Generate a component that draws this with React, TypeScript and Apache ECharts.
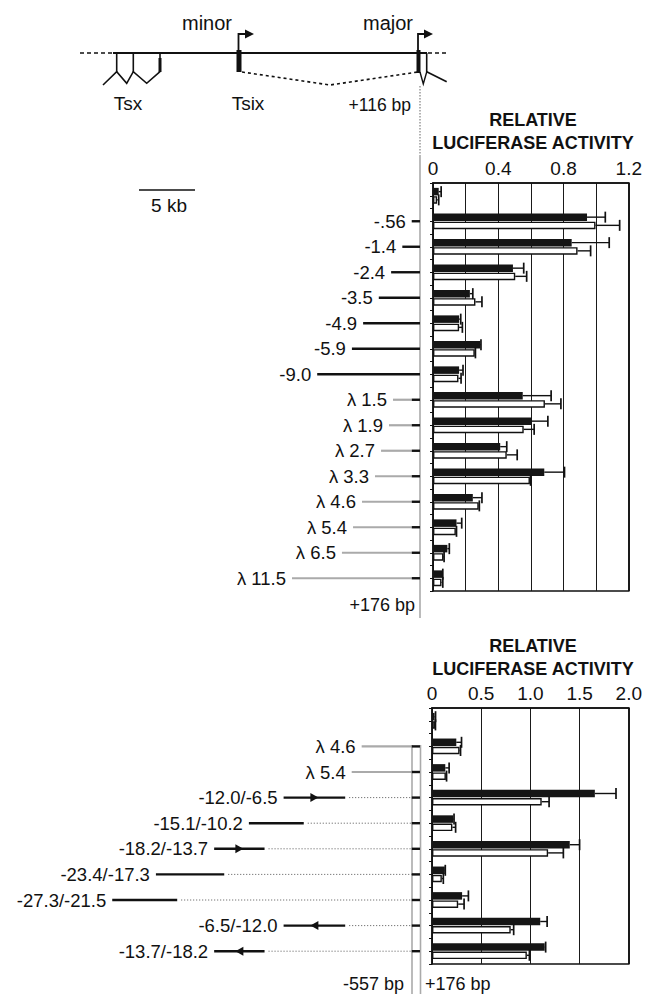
import React, { useEffect, useRef } from 'react';
import * as echarts from 'echarts';

// ---------- DATA ----------
const topCategories = ['', '-.56', '-1.4', '-2.4', '-3.5', '-4.9', '-5.9', '-9.0', 'λ 1.5', 'λ 1.9', 'λ 2.7', 'λ 3.3', 'λ 4.6', 'λ 5.4', 'λ 6.5', 'λ 11.5'];
const topBlack = [0.035, 0.944, 0.85, 0.49, 0.226, 0.16, 0.29, 0.16, 0.55, 0.604, 0.412, 0.682, 0.244, 0.144, 0.088, 0.056];
const topBlackErr = [0.015, 0.112, 0.23, 0.066, 0.018, 0.01, 0.004, 0.024, 0.174, 0.1, 0.04, 0.124, 0.056, 0.032, 0.012, 0.004];
const topWhite = [0.025, 0.996, 0.886, 0.504, 0.26, 0.16, 0.256, 0.156, 0.686, 0.556, 0.452, 0.594, 0.28, 0.14, 0.064, 0.052];
const topWhiteErr = [0.01, 0.148, 0.08, 0.07, 0.04, 0.02, 0.004, 0.016, 0.098, 0.064, 0.064, 0.004, 0.004, 0.004, 0.004, 0.008];
// construct start (kb) ; kind 0 = genomic (black), 1 = lambda stuffer (grey)
const topLineStart = [null, -0.56, -1.4, -2.4, -3.5, -4.9, -5.9, -9.0, -2.23, -2.59, -3.3, -3.84, -5.0, -5.8, -6.79, -11.25];
const topLineKind = [null, 0, 0, 0, 0, 0, 0, 0, 1, 1, 1, 1, 1, 1, 1, 1];

const bottomCategories = ['', 'λ 4.6', 'λ 5.4', '-12.0/-6.5', '-15.1/-10.2', '-18.2/-13.7', '-23.4/-17.3', '-27.3/-21.5', '-6.5/-12.0', '-13.7/-18.2'];
const bottomBlack = [0.026, 0.247, 0.135, 1.655, 0.217, 1.4, 0.13, 0.306, 1.1, 1.145];
const bottomBlackErr = [0.01, 0.053, 0.039, 0.215, 0.007, 0.1, 0.005, 0.064, 0.07, 0.01];
const bottomWhite = [0.03, 0.28, 0.141, 1.115, 0.207, 1.18, 0.1, 0.266, 0.8, 0.964];
const bottomWhiteErr = [0.005, 0.01, 0.007, 0.075, 0.033, 0.155, 0.015, 0.06, 0.03, 0.026];
const bottomSegStart = [null, -5.03, -5.92, -12.0, -15.1, -18.2, -23.4, -27.3, -12.0, -18.2];
const bottomSegEnd = [null, -0.557, -0.557, -6.5, -10.2, -13.7, -17.3, -21.5, -6.5, -13.7];
const bottomKind = [null, 1, 1, 2, 2, 2, 2, 2, 2, 2];
const bottomArrow = [0, 0, 0, 1, 0, 1, 0, 0, -1, -1];

const topTicks = [0, 0.2, 0.4, 0.6, 0.8, 1.0, 1.2];
const bottomTicks = [0, 0.5, 1.0, 1.5, 2.0];

const PROM_START = -0.557;
const PROM_END = 0.176;

// ---------- LAYOUT ----------
const FONT = '"Liberation Sans", Arial, Helvetica, sans-serif';
const LABEL_SIZE = 18.5;
const KB_PX = 11.2;
const KB_ZERO_X = 418;
const SCHEM_MIN = -37;
const SCHEM_MAX = 1;
const TOP_GRID = { left: 433, top: 183, width: 200, height: 408 };
const BOT_GRID = { left: 432, top: 708, width: 203, height: 256 };
const BAR_W = 7.5;
const BAR_OFF = 4.1;

function txt(text: string, x: number, y: number, size: number, align = 'center', weight = 'normal') {
  return {
    type: 'text',
    x,
    y,
    silent: true,
    style: { text, align, verticalAlign: 'middle', font: `${weight} ${size}px ${FONT}`, fill: '#111' },
  };
}
function ln(x1: number, y1: number, x2: number, y2: number, stroke = '#111', w = 1.5, dash?: number[]) {
  return { type: 'line', silent: true, shape: { x1, y1, x2, y2 }, style: { stroke, lineWidth: w, lineDash: dash } };
}

function schemRender(labels: string[]) {
  return (params: any, api: any) => {
    const row = api.value(0);
    const s = api.value(1);
    const e = api.value(2);
    const kind = api.value(3);
    const arrow = api.value(4);
    const y = api.coord([0, row])[1];
    const X = (kb: number) => api.coord([kb, row])[0];
    const xs = X(s);
    const children: any[] = [];
    const seg = (a: number, b: number, stroke: string, w = 2.4) => ({
      type: 'line',
      shape: { x1: a, y1: y, x2: b, y2: y },
      style: { stroke, lineWidth: w },
    });
    if (kind === 0) {
      children.push(seg(xs, X(PROM_END), '#111'));
    } else if (kind === 1) {
      children.push(seg(xs, X(PROM_START), '#aaa', 2.2));
      children.push(seg(X(PROM_START), X(PROM_END), '#111'));
    } else {
      const xe = X(e);
      children.push(seg(xs, xe, '#111'));
      children.push({
        type: 'line',
        shape: { x1: xe + 4, y1: y, x2: X(PROM_START), y2: y },
        style: { stroke: '#555', lineWidth: 1, lineDash: [1, 2] },
      });
      children.push(seg(X(PROM_START), X(PROM_END), '#111'));
      if (arrow !== 0) {
        const m = (xs + xe) / 2;
        const d = arrow;
        children.push({
          type: 'polygon',
          shape: { points: [[m - 4 * d, y - 4.5], [m + 4 * d, y], [m - 4 * d, y + 4.5]] },
          style: { fill: '#111' },
        });
      }
    }
    children.push({
      type: 'text',
      style: { text: labels[row], x: xs - 6, y, align: 'right', verticalAlign: 'middle', font: `${LABEL_SIZE}px ${FONT}`, fill: '#111' },
    });
    return { type: 'group', children };
  };
}

function errRender(params: any, api: any) {
  const v = api.value(0);
  const row = api.value(1);
  const err = api.value(2);
  const off = api.value(3);
  const p0 = api.coord([v, row]);
  const p1 = api.coord([v + err, row]);
  const y = p0[1] + off;
  return {
    type: 'group',
    children: [
      { type: 'line', shape: { x1: p0[0], y1: y, x2: p1[0], y2: y }, style: { stroke: '#111', lineWidth: 1.4 } },
      { type: 'line', shape: { x1: p1[0], y1: y - 5.5, x2: p1[0], y2: y + 5.5 }, style: { stroke: '#111', lineWidth: 1.7 } },
    ],
  };
}

function valueAxis(gridIndex: number, ticks: number[], labelFn: (v: number) => string) {
  const step = ticks[1] - ticks[0];
  return {
    type: 'value',
    gridIndex,
    position: 'top',
    min: ticks[0],
    max: ticks[ticks.length - 1],
    interval: step,
    axisLine: { show: true, onZero: false, lineStyle: { color: '#111', width: 1.5 } },
    axisTick: { show: false },
    axisLabel: { fontSize: 19, fontFamily: FONT, color: '#111', margin: 5, formatter: labelFn },
    splitLine: { show: true, lineStyle: { color: '#1a1a1a', width: 1 } },
  };
}

function catAxis(gridIndex: number, data: string[], centerTicks: boolean) {
  return {
    type: 'category',
    gridIndex,
    data,
    inverse: true,
    position: 'left',
    axisLine: { show: !centerTicks, lineStyle: { color: '#111', width: 1.5 } },
    axisTick: { show: true, alignWithLabel: centerTicks, length: 3, lineStyle: { color: '#111', width: 1 } },
    axisLabel: { show: false },
    splitLine: { show: false },
  };
}

function schemAxisX(gridIndex: number) {
  return { type: 'value', gridIndex, min: SCHEM_MIN, max: SCHEM_MAX, show: false, splitLine: { show: false } };
}
function schemAxisY(gridIndex: number, data: string[]) {
  return { type: 'category', gridIndex, data, inverse: true, show: false };
}

export default function App() {
  const ref = useRef<HTMLDivElement>(null);
  useEffect(() => {
    if (!ref.current) return;
    const chart = echarts.init(ref.current, undefined, { renderer: 'svg' });
    const schemLeft = KB_ZERO_X + SCHEM_MIN * KB_PX;
    const schemWidth = (SCHEM_MAX - SCHEM_MIN) * KB_PX;

    const topFmt = (v: number) => {
      const k = Math.round(v / 0.2);
      if (k % 2 !== 0) return '';
      return k === 0 ? '0' : v.toFixed(1);
    };
    const botFmt = (v: number) => (Math.abs(v) < 1e-9 ? '0' : v.toFixed(1));

    const topSchemData = topCategories
      .map((_, i) => i)
      .filter((i) => topLineStart[i] !== null)
      .map((i) => [i, topLineStart[i], 0, topLineKind[i], 0]);
    const botSchemData = bottomCategories
      .map((_, i) => i)
      .filter((i) => bottomSegStart[i] !== null)
      .map((i) => [i, bottomSegStart[i], bottomSegEnd[i], bottomKind[i], bottomArrow[i]]);

    const scaleX1 = 139;
    const graphics: any[] = [
      // gene map
      ln(80, 53, 113, 53, '#111', 1.5, [4, 3]),
      ln(113, 53, 427, 53, '#111', 1.8),
      ln(428, 53, 448, 53, '#111', 1.5, [4, 3]),
      ln(116.7, 53, 116.7, 72, '#111', 1.6),
      ln(133.3, 53, 133.3, 72, '#111', 1.6),
      ln(160, 53, 160, 72, '#111', 1.6),
      { type: 'rect', silent: true, shape: { x: 158.5, y: 58, width: 3, height: 14 }, style: { fill: '#111' } },
      { type: 'polyline', silent: true, shape: { points: [[103, 85], [116.7, 71.7], [126.7, 83.3], [133.3, 71.7], [146.7, 83.3], [160, 71.7]] }, style: { stroke: '#111', lineWidth: 1.6, fill: 'none' } },
      { type: 'rect', silent: true, shape: { x: 236.5, y: 50, width: 5, height: 22 }, style: { fill: '#111' } },
      { type: 'polyline', silent: true, shape: { points: [[238.5, 50], [238.5, 34], [246, 34]] }, style: { stroke: '#111', lineWidth: 1.8, fill: 'none' } },
      { type: 'polygon', silent: true, shape: { points: [[245, 29.5], [254, 34], [245, 38.5]] }, style: { fill: '#111' } },
      { type: 'polyline', silent: true, shape: { points: [[242, 72], [330, 85], [418, 72]] }, style: { stroke: '#111', lineWidth: 1.6, fill: 'none', lineDash: [3, 3] } },
      { type: 'rect', silent: true, shape: { x: 416.5, y: 50, width: 4, height: 23 }, style: { fill: '#111' } },
      { type: 'polyline', silent: true, shape: { points: [[418, 50], [418, 34], [425, 34]] }, style: { stroke: '#111', lineWidth: 1.8, fill: 'none' } },
      { type: 'polygon', silent: true, shape: { points: [[424, 29.5], [433, 34], [424, 38.5]] }, style: { fill: '#111' } },
      ln(426.7, 53, 426.7, 72, '#111', 1.6),
      { type: 'polyline', silent: true, shape: { points: [[420, 72], [423.3, 84], [426.7, 72]] }, style: { stroke: '#111', lineWidth: 1.4, fill: 'none' } },
      ln(426.7, 71.7, 446.7, 81.7, '#111', 1.6),
      txt('minor', 207, 23, 20),
      txt('major', 388, 23, 20),
      txt('Tsx', 128, 103, 19),
      txt('Tsix', 248, 103, 19),
      txt('+116 bp', 411, 105, 17.5, 'right'),
      // scale bar
      ln(scaleX1, 190, scaleX1 + 5 * KB_PX, 190, '#111', 1.5),
      txt('5 kb', scaleX1 + 2.5 * KB_PX + 2, 205, 19),
      // reference verticals
      ln(420, 86, 420, 155, '#999', 1.5, [1.5, 1.5]),
      ln(420, 155, 420, 618, '#aaa', 1.6),
      txt('+176 bp', 415, 605, 18, 'right'),
      ln(412, 745, 412, 994, '#aaa', 1.6),
      ln(420.5, 745, 420.5, 994, '#aaa', 1.6),
      txt('-557 bp', 404, 984, 18, 'right'),
      txt('+176 bp', 425, 984, 18, 'left'),
      // titles
      txt('RELATIVE', 533, 120, 18, 'center', 'bold'),
      txt('LUCIFERASE ACTIVITY', 533, 143, 18, 'center', 'bold'),
      txt('RELATIVE', 533, 646, 18, 'center', 'bold'),
      txt('LUCIFERASE ACTIVITY', 533, 669, 18, 'center', 'bold'),
    ];

    const gridBox = { show: true, borderColor: '#111', borderWidth: 1.5, backgroundColor: 'transparent' };

    chart.setOption({
      animation: false,
      grid: [
        { ...TOP_GRID, ...gridBox },
        { ...BOT_GRID, ...gridBox },
        { left: schemLeft, width: schemWidth, top: TOP_GRID.top, height: TOP_GRID.height },
        { left: schemLeft, width: schemWidth, top: BOT_GRID.top, height: BOT_GRID.height },
      ],
      xAxis: [
        valueAxis(0, topTicks, topFmt),
        valueAxis(1, bottomTicks, botFmt),
        schemAxisX(2),
        schemAxisX(3),
      ],
      yAxis: [
        catAxis(0, topCategories, false),
        catAxis(0, topCategories, true),
        catAxis(1, bottomCategories, false),
        catAxis(1, bottomCategories, true),
        schemAxisY(2, topCategories),
        schemAxisY(3, bottomCategories),
      ],
      graphic: graphics,
      series: [
        { type: 'bar', xAxisIndex: 0, yAxisIndex: 0, data: topBlack, barWidth: BAR_W, barGap: '10%', itemStyle: { color: '#151515' }, z: 2 },
        { type: 'bar', xAxisIndex: 0, yAxisIndex: 0, data: topWhite, barWidth: BAR_W, barGap: '10%', itemStyle: { color: '#fff', borderColor: '#111', borderWidth: 1.4 }, z: 2 },
        { type: 'custom', xAxisIndex: 0, yAxisIndex: 0, renderItem: errRender, encode: { x: 0, y: 1 }, clip: false, z: 3,
          data: topBlack.map((v, i) => [v, i, topBlackErr[i], -BAR_OFF]) },
        { type: 'custom', xAxisIndex: 0, yAxisIndex: 0, renderItem: errRender, encode: { x: 0, y: 1 }, clip: false, z: 3,
          data: topWhite.map((v, i) => [v, i, topWhiteErr[i], BAR_OFF]) },
        { type: 'bar', xAxisIndex: 1, yAxisIndex: 2, data: bottomBlack, barWidth: BAR_W, barGap: '10%', itemStyle: { color: '#151515' }, z: 2 },
        { type: 'bar', xAxisIndex: 1, yAxisIndex: 2, data: bottomWhite, barWidth: BAR_W, barGap: '10%', itemStyle: { color: '#fff', borderColor: '#111', borderWidth: 1.4 }, z: 2 },
        { type: 'custom', xAxisIndex: 1, yAxisIndex: 2, renderItem: errRender, encode: { x: 0, y: 1 }, clip: false, z: 3,
          data: bottomBlack.map((v, i) => [v, i, bottomBlackErr[i], -BAR_OFF]) },
        { type: 'custom', xAxisIndex: 1, yAxisIndex: 2, renderItem: errRender, encode: { x: 0, y: 1 }, clip: false, z: 3,
          data: bottomWhite.map((v, i) => [v, i, bottomWhiteErr[i], BAR_OFF]) },
        { type: 'custom', xAxisIndex: 2, yAxisIndex: 4, renderItem: schemRender(topCategories), encode: { x: 1, y: 0 }, clip: false, data: topSchemData },
        { type: 'custom', xAxisIndex: 3, yAxisIndex: 5, renderItem: schemRender(bottomCategories), encode: { x: 1, y: 0 }, clip: false, data: botSchemData },
      ],
    });
    return () => chart.dispose();
  }, []);
  return <div ref={ref} style={{ position: 'absolute', left: 0, top: 0, width: 645, height: 994 }} />;
}
